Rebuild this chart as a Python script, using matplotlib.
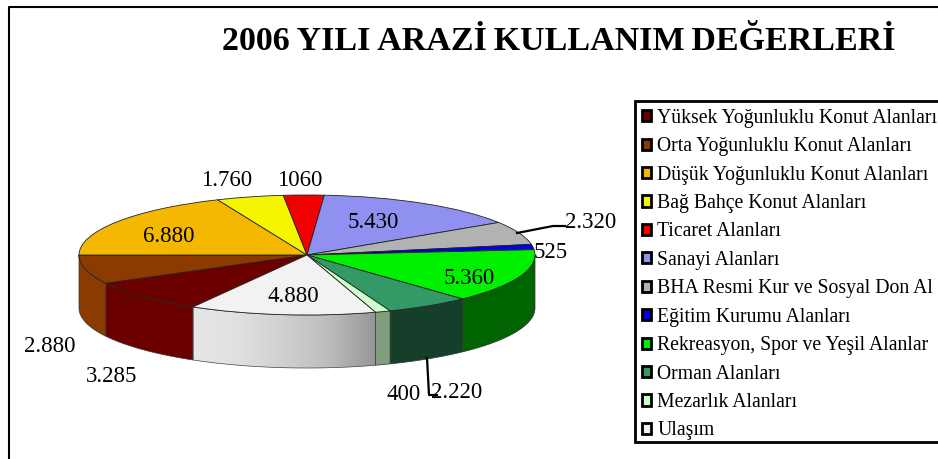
import numpy as np
import matplotlib
matplotlib.use("Agg")
import matplotlib.pyplot as plt
from matplotlib.patches import Patch, Polygon, Rectangle
from matplotlib.transforms import Affine2D
from matplotlib.colors import LinearSegmentedColormap

plt.rcParams['font.family'] = ['Liberation Serif', 'DejaVu Serif']

categories = ["Yüksek Yoğunluklu Konut Alanları", "Orta Yoğunluklu Konut Alanları",
              "Düşük Yoğunluklu Konut Alanları", "Bağ Bahçe Konut Alanları",
              "Ticaret Alanları", "Sanayi Alanları", "BHA Resmi Kur ve Sosyal Don Al",
              "Eğitim Kurumu Alanları", "Rekreasyon, Spor ve Yeşil Alanlar",
              "Orman Alanları", "Mezarlık Alanları", "Ulaşım"]
values = [3285, 2880, 6880, 1760, 1060, 5430, 2320, 525, 5360, 2220, 400, 4880]
value_labels = ["3.285", "2.880", "6.880", "1.760", "1060", "5.430", "2.320", "525",
                "5.360", "2.220", "400", "4.880"]
top_colors = ["#6b0000", "#8b3a00", "#f5b800", "#f5f500", "#f00000", "#9090f0",
              "#b2b2b2", "#0000e0", "#00f000", "#339966", "#ccffcc", "#f2f2f2"]
side_colors = ["#6b0000", "#8b3a00", "#b88a00", "#b8b800", "#b40000", "#6c6cb4",
               "#858585", "#0000a8", "#006400", "#153f2a", "#7f9f7f", None]
label_px = [(112, 376), (50, 346), (169, 236), (227, 180), (300, 180), (373, 223),
            (591, 222), (551, 253), (469, 278), (457, 392), (404, 394), (293, 297)]

W, H = 938, 459
CX, CY, A, B, DEPTH = 307, 255, 228, 60, 53

fig = plt.figure(figsize=(W / 100, H / 100), dpi=100, facecolor="white")
ax = fig.add_axes([0, 0, 1, 1])
px = Affine2D().scale(1, -1).translate(0, H)

wedges, _ = ax.pie(values, startangle=240, counterclock=False, radius=1, colors=top_colors,
                   wedgeprops=dict(edgecolor="#222222", linewidth=0.6, zorder=5))
ax.set_aspect("auto")
xlim = (-CX / A, (W - CX) / A)
ylim = ((CY - H) / B, CY / B)
ax.set_xlim(*xlim)
ax.set_ylim(*ylim)
depth = DEPTH / B

gray = LinearSegmentedColormap.from_list("g", ["#e6e6e6", "#e0e0e0", "#d0d0d0", "#bcbcbc", "#969696"])
for w, sc in zip(wedges, side_colors):
    t = np.radians(np.linspace(w.theta1, w.theta2, 160))
    t = t[np.sin(t) <= 0]
    if t.size < 2:
        continue
    x, y = np.cos(t), np.sin(t)
    verts = np.r_[np.c_[x, y], np.c_[x[::-1], y[::-1] - depth]]
    if sc is None:
        poly = Polygon(verts, closed=True, facecolor="none", edgecolor="#444444", linewidth=0.5, zorder=3)
        ax.add_patch(poly)
        im = ax.imshow(np.linspace(0, 1, 128)[None, :], cmap=gray, aspect="auto",
                       extent=(x.min(), x.max(), (y - depth).min(), y.max()), zorder=2)
        im.set_clip_path(poly)
    else:
        ax.add_patch(Polygon(verts, closed=True, facecolor=sc, edgecolor="#333333",
                             linewidth=0.5, zorder=3))
ax.set_xlim(*xlim)
ax.set_ylim(*ylim)
ax.axis("off")

for s, (lx, ly) in zip(value_labels, label_px):
    ax.text(lx, ly, s, transform=px, ha="center", va="center", fontsize=16.5, color="black", zorder=8)

# leader lines
ax.plot([517, 553, 565], [233, 226, 226], transform=px, color="black", lw=1.6, zorder=7)
ax.plot([427, 429, 437], [358, 395, 395], transform=px, color="black", lw=1.6, zorder=7)

# outer frame lines
ax.plot([9, 9, W + 5], [H + 5, 7, 7], transform=px, color="black", lw=1.5, zorder=7, clip_on=False)

ax.text(559, 42, "2006\u2009YILI\u2009ARAZİ\u2009KULLANIM\u2009DEĞERLERİ", transform=px, ha="center", va="center",
        fontsize=24.5, fontweight="bold", color="black")

# legend box
ax.add_patch(Rectangle((635, 101), 320, 341, transform=px, facecolor="white", edgecolor="black",
                       linewidth=2, zorder=6, clip_on=True))
handles = [Patch(facecolor=c, edgecolor="black", linewidth=2) for c in top_colors]
leg = ax.legend(handles, categories, loc="upper left",
                bbox_to_anchor=(635 / W, 1 - 102 / H), bbox_transform=fig.transFigure,
                fontsize=14.2, frameon=False,
                handlelength=0.45, handleheight=0.5, handletextpad=0.35, labelspacing=0.478,
                borderpad=0.34, borderaxespad=0, labelcolor="black")
leg.set_zorder(9)

fig.savefig("out.png", dpi=100)
